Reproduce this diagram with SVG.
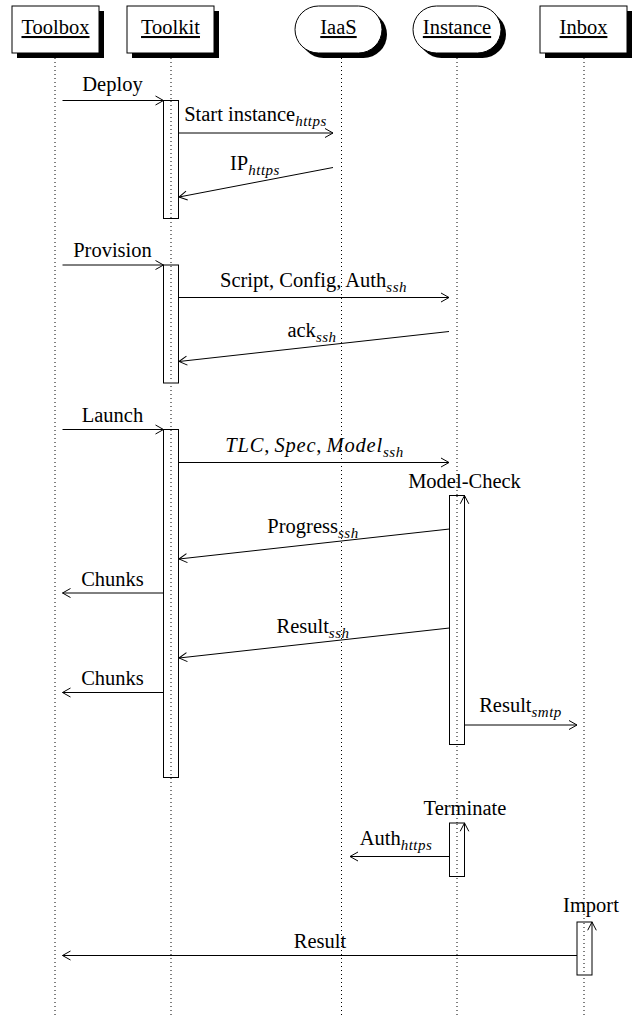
<svg xmlns="http://www.w3.org/2000/svg" width="632" height="1020" viewBox="0 0 632 1020">
<style>
text{font-family:"Liberation Serif","Times New Roman",serif;font-size:20.5px;fill:#000}
.hd{text-decoration:underline;text-anchor:middle}
.m{text-anchor:middle}
.sub{font-style:italic;font-size:15px;letter-spacing:0.5px}
.mi{font-style:italic;letter-spacing:0.8px}
.box{fill:#fff;stroke:#000;stroke-width:1}
.sh{fill:#000}
.life{stroke:#000;stroke-width:1;stroke-dasharray:1 3}
.act{fill:#fff;stroke:#000;stroke-width:1}
.msg{stroke:#000;stroke-width:1;fill:none;marker-end:url(#ah)}
.up{stroke:#000;stroke-width:1;fill:none}
</style>
<defs>
<marker id="ah" viewBox="-10 -6 12 12" refX="0" refY="0" markerWidth="12" markerHeight="12" markerUnits="userSpaceOnUse" orient="auto">
<path d="M-8,-4.5 L0,0 L-8,4.5" fill="none" stroke="#000" stroke-width="1"/>
</marker>
</defs>
<rect width="632" height="1020" fill="#fff"/>

<g id="lifelines">
<line class="life" x1="55" y1="58" x2="55" y2="1016"/>
<line class="life" x1="171" y1="58" x2="171" y2="1016"/>
<line class="life" x1="341.5" y1="58" x2="341.5" y2="1016"/>
<line class="life" x1="457" y1="58" x2="457" y2="1016"/>
<line class="life" x1="584" y1="58" x2="584" y2="1016"/>
</g>

<g id="toolbox">
<rect class="sh" x="17" y="11" width="87" height="47"/>
<rect class="box" x="12" y="6" width="87" height="47"/>
<text class="hd" x="55.5" y="34">Toolbox</text>
</g>
<g id="toolkit">
<rect class="sh" x="132" y="11" width="87" height="47"/>
<rect class="box" x="127" y="6" width="87" height="47"/>
<text class="hd" x="170.5" y="34">Toolkit</text>
</g>
<g id="iaas">
<rect class="sh" x="300" y="11" width="87" height="47" rx="23.5"/>
<rect class="box" x="295" y="6" width="87" height="47" rx="23.5"/>
<text class="hd" x="338.5" y="34">IaaS</text>
</g>
<g id="instance">
<rect class="sh" x="418" y="11" width="88" height="47" rx="23.5"/>
<rect class="box" x="413" y="6" width="88" height="47" rx="23.5"/>
<text class="hd" x="457" y="34">Instance</text>
</g>
<g id="inbox">
<rect class="sh" x="545" y="11" width="87" height="47"/>
<rect class="box" x="540" y="6" width="87" height="47"/>
<text class="hd" x="583.5" y="34">Inbox</text>
</g>

<g id="activations">
<rect class="act" x="163.5" y="100.5" width="15" height="118"/>
<rect class="act" x="163.5" y="265" width="15" height="118"/>
<rect class="act" x="163.5" y="429.5" width="15" height="348"/>
<rect class="act" x="449.5" y="495.5" width="15" height="249"/>
<rect class="act" x="449.5" y="823" width="15" height="53.5"/>
<rect class="act" x="577" y="922" width="15" height="53"/>
</g>
<g id="lifelines-over">
<line class="life" x1="171" y1="101" x2="171" y2="218"/>
<line class="life" x1="171" y1="266" x2="171" y2="382"/>
<line class="life" x1="171" y1="430" x2="171" y2="777"/>
<line class="life" x1="457" y1="496" x2="457" y2="744"/>
<line class="life" x1="457" y1="824" x2="457" y2="876"/>
<line class="life" x1="584" y1="923" x2="584" y2="975"/>
</g>

<g id="connectors">
<line class="msg" x1="62.5" y1="100.5" x2="163.5" y2="100.5"/>
<line class="msg" x1="178.5" y1="133" x2="333" y2="133"/>
<line class="msg" x1="333" y1="167.5" x2="179" y2="197"/>
<line class="msg" x1="62.5" y1="265" x2="163.5" y2="265"/>
<line class="msg" x1="178.5" y1="297.5" x2="449" y2="297.5"/>
<line class="msg" x1="449" y1="331.5" x2="179" y2="361.5"/>
<line class="msg" x1="62.5" y1="429.5" x2="163.5" y2="429.5"/>
<line class="msg" x1="178.5" y1="462.5" x2="449" y2="462.5"/>
<line class="msg" x1="449.5" y1="529" x2="179" y2="559"/>
<line class="msg" x1="163.5" y1="593" x2="62.5" y2="593"/>
<line class="msg" x1="449.5" y1="628" x2="179" y2="658"/>
<line class="msg" x1="163.5" y1="692.5" x2="62.5" y2="692.5"/>
<line class="msg" x1="464.5" y1="725" x2="577" y2="725"/>
<line class="msg" x1="449.5" y1="856.5" x2="350" y2="856.5"/>
<line class="msg" x1="577" y1="955.5" x2="62.5" y2="955.5"/>
<path class="up" d="M460.2,503.8 L464.5,495.5 L468.8,503.8"/>
<path class="up" d="M460.2,831.3 L464.5,823 L468.8,831.3"/>
<path class="up" d="M587.7,930.3 L592,922 L596.3,930.3"/>
</g>

<g id="labels">
<text class="m" x="112.5" y="90.5">Deploy</text>
<text class="m" x="255.5" y="120.5">Start instance<tspan class="sub" dy="5">https</tspan></text>
<text class="m" x="255" y="170">IP<tspan class="sub" dy="5">https</tspan></text>
<text class="m" x="112.5" y="257">Provision</text>
<text class="m" x="313.5" y="286.5">Script, Config, Auth<tspan class="sub" dy="5">ssh</tspan></text>
<text class="m" x="312" y="337">ack<tspan class="sub" dy="5">ssh</tspan></text>
<text class="m" x="112.5" y="421.5"><tspan>Launch</tspan></text>
<text class="m" x="314.5" y="451.5"><tspan class="mi">TLC</tspan>, <tspan class="mi">Spec</tspan>, <tspan class="mi">Model</tspan><tspan class="sub" dy="5">ssh</tspan></text>
<text class="m" x="464.5" y="488">Model-Check</text>
<text class="m" x="313" y="533">Progress<tspan class="sub" dy="5">ssh</tspan></text>
<text class="m" x="112.5" y="586">Chunks</text>
<text class="m" x="313" y="632.5">Result<tspan class="sub" dy="5">ssh</tspan></text>
<text class="m" x="112.5" y="685">Chunks</text>
<text class="m" x="520.5" y="712">Result<tspan class="sub" dy="5">smtp</tspan></text>
<text class="m" x="465" y="815">Terminate</text>
<text class="m" x="396" y="845">Auth<tspan class="sub" dy="5">https</tspan></text>
<text class="m" x="591" y="911.5">Import</text>
<text class="m" x="320" y="948">Result</text>
</g>
</svg>
